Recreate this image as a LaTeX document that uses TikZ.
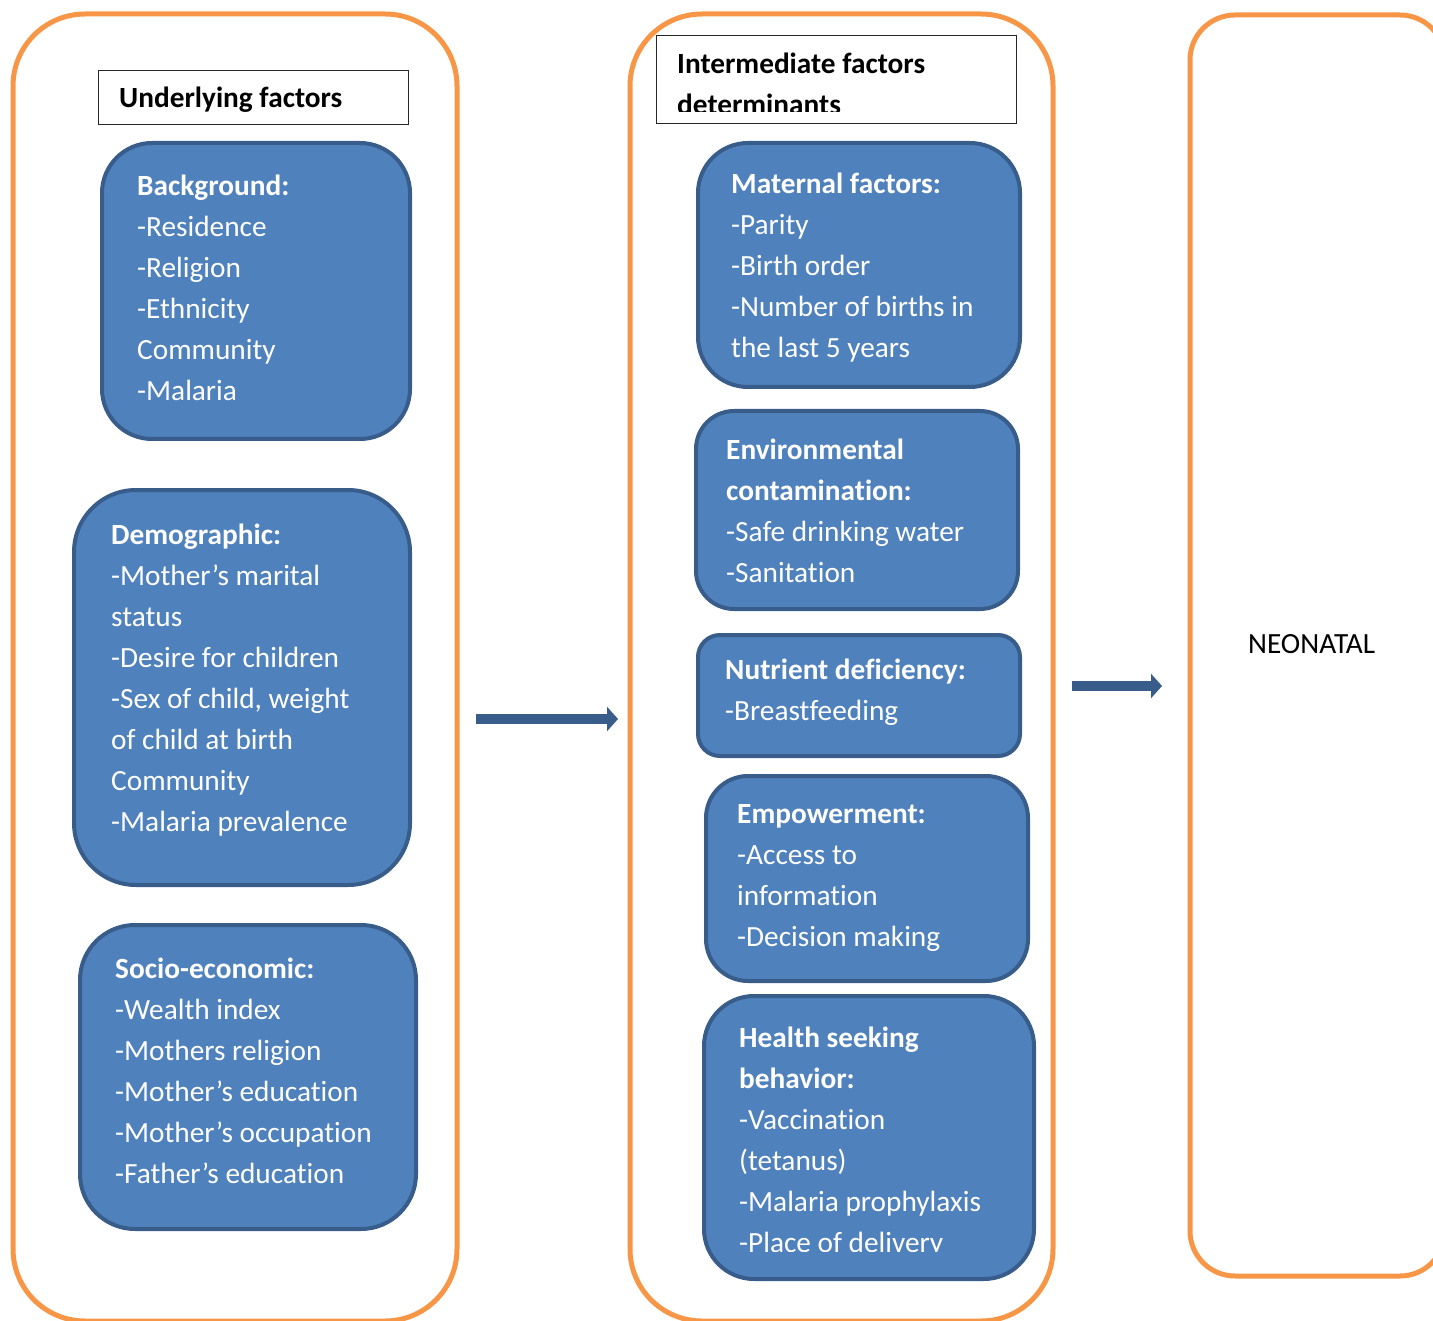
\documentclass[tikz,border=0pt]{standalone}
\usepackage{fontspec}
\setmainfont{Carlito}[Ligatures=NoCommon]
\usetikzlibrary{arrows.meta}
\definecolor{bfill}{HTML}{4F81BD}
\definecolor{bline}{HTML}{385D8A}
\definecolor{orng}{HTML}{F79646}
\newcommand\myfs{\fontsize{29.3}{41}\selectfont}
\begin{document}
\begin{tikzpicture}[x=1pt,y=-1pt,
  outer/.style={draw=orng, line width=5pt},
  bluebox/.style={draw=bline, fill=bfill, line width=4pt, anchor=north west, inner sep=0pt},
  txt/.style={anchor=north west, inner sep=0pt, align=left, text=white, font=\myfs},
  htxt/.style={anchor=north west, inner sep=0pt, align=left, text=black, font=\myfs\bfseries},
  hdr/.style={draw=black!85, line width=1pt, fill=white, anchor=north west, inner sep=0pt},
  flow/.style={draw=bline, line width=10pt, -{Triangle[length=11pt,width=24pt]}}
]
\useasboundingbox (0,0) rectangle (1433,1321);
\begin{scope}
\clip (0,0) rectangle (1433,1321);
% outer containers
\draw[outer, rounded corners=72pt] (13,14) rectangle (457,1321);
\draw[outer, rounded corners=72pt] (630,14) rectangle (1053,1321);
\draw[outer, rounded corners=45pt] (1190,15) rectangle (1445,1276);

% headers
\node[hdr, minimum width=310pt, minimum height=54pt] (h1) at (98,70) {};
\node[htxt] (h1t) at (119,107-28.7) {\strut Underlying factors};
\node[hdr, minimum width=360pt, minimum height=88pt] (h2) at (656,35) {};
\begin{scope}
\clip (657,36) rectangle (1015,112);
\node[htxt] (h2t) at (677,73-28.7) {\strut Intermediate factors\\determinants};
\end{scope}

% left column
\node[bluebox, rounded corners=50pt, minimum width=308pt, minimum height=296pt] (bg) at (100,141) {};
\node[txt] (bgt) at (137,195-28.7) {\strut\textbf{Background:}\\-Residence\\-Religion\\-Ethnicity\\Community\\-Malaria};

\node[bluebox, rounded corners=62pt, minimum width=336pt, minimum height=395pt] (dm) at (72,488) {};
\node[txt] (dmt) at (111,544-28.7) {\strut\textbf{Demographic:}\\-Mother’s marital\\status\\-Desire for children\\-Sex of child, weight\\of child at birth\\Community\\-Malaria prevalence};

\node[bluebox, rounded corners=55pt, minimum width=336pt, minimum height=304pt] (se) at (78,923) {};
\node[txt] (set) at (115,978-28.7) {\strut\textbf{Socio-economic:}\\-Wealth index\\-Mothers religion\\-Mother’s education\\-Mother’s occupation\\-Father’s education};

% middle column
\node[bluebox, rounded corners=50pt, minimum width=322pt, minimum height=244pt] (mf) at (696,141) {};
\node[txt] (mft) at (731,193-28.7) {\strut\textbf{Maternal factors:}\\-Parity\\-Birth order\\-Number of births in\\the last 5 years};

\node[bluebox, rounded corners=38pt, minimum width=322pt, minimum height=198pt] (ec) at (694,409) {};
\node[txt] (ect) at (726,459-28.7) {\strut\textbf{Environmental}\\\textbf{contamination:}\\-Safe drinking water\\-Sanitation};

\node[bluebox, rounded corners=22pt, minimum width=322pt, minimum height=121pt] (nd) at (696,633) {};
\node[txt] (ndt) at (725,679-28.7) {\strut\textbf{Nutrient deficiency:}\\-Breastfeeding};

\node[bluebox, rounded corners=42pt, minimum width=322pt, minimum height=205pt] (em) at (704,774) {};
\node[txt] (emt) at (737,823-28.7) {\strut\textbf{Empowerment:}\\-Access to\\information\\-Decision making};

\node[bluebox, rounded corners=50pt, minimum width=330pt, minimum height=283pt] (hs) at (702,994) {};
\begin{scope}
\clip (705,997) rectangle (1029,1251);
\node[txt] (hst) at (739,1047-28.7) {\strut\textbf{Health seeking}\\\textbf{behavior:}\\-Vaccination\\(tetanus)\\-Malaria prophylaxis\\-Place of delivery};
\end{scope}

% outcome
\node[anchor=base west, inner sep=0pt, font=\myfs] (neo) at (1248,653) {NEONATAL};

% arrows
\coordinate (a1s) at (476,719);
\coordinate (a1e) at (618,719);
\coordinate (a2s) at (1072,686);
\coordinate (a2e) at (1162,686);
\draw[flow] (a1s) -- (a1e);
\draw[flow] (a2s) -- (a2e);
\end{scope}
\end{tikzpicture}
\end{document}
